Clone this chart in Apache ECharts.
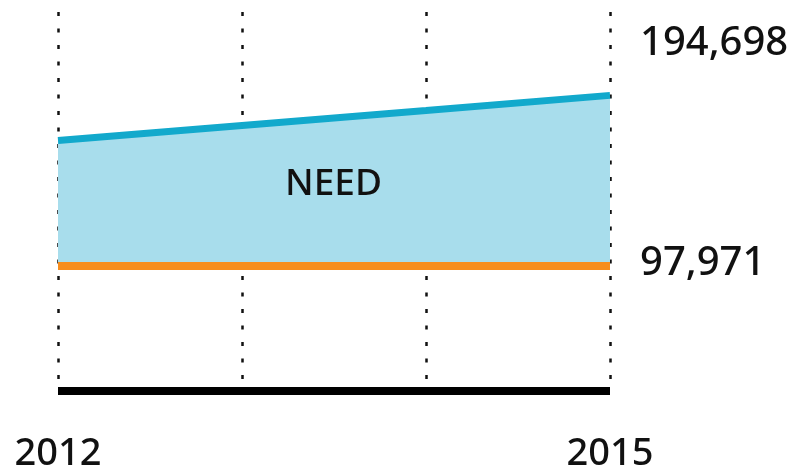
<!DOCTYPE html>
<html>
<head>
<meta charset="utf-8">
<script src="https://cdn.jsdelivr.net/npm/echarts@6/dist/echarts.min.js"></script>
<style>
  html, body { margin: 0; padding: 0; background: #fff; }
  #chart { width: 807px; height: 469px; }
</style>
</head>
<body>
<div id="chart"></div>
<script>
// values
const years = ['2012', '2013', '2014', '2015']
const needValues = [169100, 177600, 186100, 194698]
const supplyValues = [97971, 97971, 97971, 97971]
const shownYears = ['2012', '2015']
const areaLabel = 'NEED'

const gapValues = needValues.map((v, i) => v - supplyValues[i])
const textFont = '"Noto Sans", sans-serif'

const chart = echarts.init(document.getElementById('chart'))
chart.setOption({
  animation: false,
  grid: { left: 58, right: 197, top: 12, bottom: 78, containLabel: false, outerBoundsMode: 'none' },
  xAxis: {
    type: 'category',
    data: years,
    boundaryGap: false,
    axisLine: { lineStyle: { color: '#000', width: 8, cap: 'butt' } },
    axisTick: { show: false },
    axisLabel: {
      interval: 0,
      margin: 44,
      fontSize: 38,
      fontWeight: 500,
      fontFamily: textFont,
      color: '#111',
      formatter: val => (shownYears.includes(val) ? val : '')
    },
    splitLine: {
      show: true,
      lineStyle: { color: '#111', width: 2.5, type: [4, 12.5] }
    }
  },
  yAxis: {
    type: 'value',
    min: 27000,
    max: 242000,
    show: false,
    splitLine: { show: false }
  },
  graphic: [{
    type: 'text',
    left: 285,
    top: 166,
    z: 100,
    style: {
      text: areaLabel,
      font: '500 37px "Noto Sans", sans-serif',
      fill: '#111'
    }
  }],
  series: [
    {
      name: 'base',
      type: 'line',
      stack: 'gap',
      data: supplyValues,
      symbol: 'none',
      lineStyle: { opacity: 0 },
      silent: true
    },
    {
      name: 'gap',
      type: 'line',
      stack: 'gap',
      data: gapValues,
      symbol: 'none',
      lineStyle: { opacity: 0 },
      areaStyle: { color: '#a8ddec', opacity: 1 },
      silent: true
    },
    {
      name: 'supply',
      type: 'line',
      data: supplyValues,
      symbol: 'none',
      lineStyle: { color: '#f78e1e', width: 8 },
      endLabel: {
        show: true,
        distance: 30,
        offset: [0, -2],
        fontSize: 40,
        fontWeight: 500,
        fontFamily: textFont,
        color: '#111',
        formatter: p => p.value.toLocaleString('en-US')
      }
    },
    {
      name: 'need',
      type: 'line',
      data: needValues,
      symbol: 'none',
      lineStyle: { color: '#12a9cc', width: 7 },
      endLabel: {
        show: true,
        distance: 30,
        offset: [0, -52],
        fontSize: 40,
        fontWeight: 500,
        fontFamily: textFont,
        color: '#111',
        formatter: p => p.value.toLocaleString('en-US')
      }
    }
  ]
})
</script>
</body>
</html>
